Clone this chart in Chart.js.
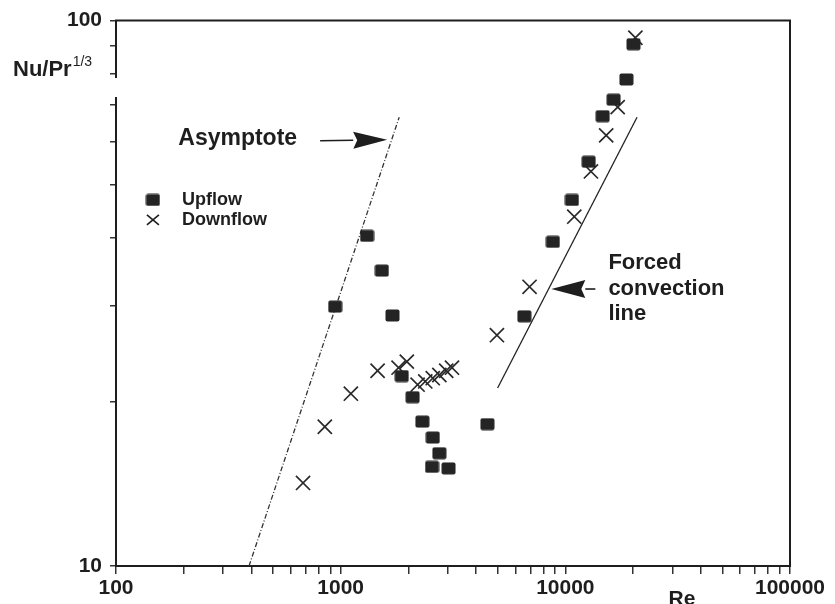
<!DOCTYPE html>
<html>
<head>
<meta charset="utf-8">
<script src="https://cdn.jsdelivr.net/npm/chart.js@4/dist/chart.umd.min.js"></script>
<style>
html,body{margin:0;padding:0;background:#fff;}
#wrap{width:835px;height:604px;position:relative;}
</style>
</head>
<body>
<div id="wrap"><canvas id="c" width="835" height="604"></canvas></div>
<script>
// ---- data ----
const upflowRe = [945, 1310, 1525, 1700, 1870, 2090, 2310, 2570, 2750, 2550, 3020, 4500, 6570, 8800, 10700, 12700, 14660, 16400, 18700, 20100];
const upflowNu = [29.9, 40.3, 34.8, 28.8, 22.3, 20.4, 18.4, 17.2, 16.1, 15.2, 15.1, 18.2, 28.7, 39.3, 46.9, 55.1, 66.8, 71.6, 78.0, 90.5];
const downflowRe = [680, 850, 1110, 1460, 1810, 1970, 2200, 2380, 2570, 2750, 2950, 3130, 4960, 6930, 10960, 13000, 15200, 17100, 20500];
const downflowNu = [14.2, 18.0, 20.7, 22.8, 23.1, 23.7, 21.5, 21.8, 22.1, 22.4, 22.8, 23.1, 26.5, 32.5, 43.7, 52.9, 61.6, 69.4, 93.0];
const asymptoteRe = [391, 1822];
const asymptoteNu = [10, 66.5];
const forcedRe = [4995, 20850];
const forcedNu = [21.2, 66.5];
const seriesLabels = ['Upflow', 'Downflow'];
const xTicks = [100,200,300,400,500,600,700,800,900,1000,2000,3000,4000,5000,6000,7000,8000,9000,10000,20000,30000,40000,50000,60000,70000,80000,90000,100000];
const xTickLabels = {100:'100', 1000:'1000', 10000:'10000', 100000:'100000'};
const yTicks = [10,20,30,40,50,60,70,80,90,100];
const yTickLabels = {10:'10', 100:'100'};
const xTitle = 'Re';
const yTitleMain = 'Nu/Pr';
const yTitleSup = '1/3';
const asymptoteText = 'Asymptote';
const forcedText = ['Forced', 'convection', 'line'];

// ---- helpers ----
const FONT = "'Liberation Sans', Arial, Helvetica, sans-serif";
const INK = '#1e1e1e';
const toPts = (xs, ys) => xs.map((v, i) => ({x: v, y: ys[i]}));

function makeSquare() {
  const c = document.createElement('canvas');
  c.width = 15; c.height = 13;
  const g = c.getContext('2d');
  g.fillStyle = '#242424';
  g.beginPath();
  if (g.roundRect) g.roundRect(0.5, 0.5, 14, 12, 2); else g.rect(0.5, 0.5, 14, 12);
  g.fill();
  return c;
}
const squareImg = makeSquare();

function arrow(ctx, x0, y0, x1, y1, headLen, headHalf) {
  const ang = Math.atan2(y1 - y0, x1 - x0);
  const bx = x1 - Math.cos(ang) * headLen, by = y1 - Math.sin(ang) * headLen;
  ctx.beginPath();
  ctx.moveTo(x0, y0); ctx.lineTo(bx, by);
  ctx.stroke();
  ctx.beginPath();
  ctx.moveTo(x1, y1);
  ctx.lineTo(bx - Math.sin(ang) * headHalf, by + Math.cos(ang) * headHalf);
  ctx.lineTo(bx + Math.cos(ang) * 4, by + Math.sin(ang) * 4);
  ctx.lineTo(bx + Math.sin(ang) * headHalf, by - Math.cos(ang) * headHalf);
  ctx.closePath();
  ctx.fill();
}

const decor = {
  id: 'decor',
  afterDraw(chart) {
    const {ctx, chartArea: a, scales: {x, y}} = chart;
    ctx.save();
    ctx.strokeStyle = INK; ctx.fillStyle = INK; ctx.lineWidth = 2;
    // frame top and right
    ctx.beginPath();
    ctx.moveTo(a.left - 1, a.top); ctx.lineTo(a.right, a.top); ctx.lineTo(a.right, a.bottom + 1);
    ctx.stroke();

    // break in the left axis beside the y title
    ctx.fillStyle = '#fff';
    ctx.fillRect(a.left - 8, 78, 10, 19);
    ctx.fillStyle = INK;

    // y title
    ctx.textBaseline = 'alphabetic'; ctx.textAlign = 'left';
    ctx.font = 'bold 22px ' + FONT;
    ctx.fillText(yTitleMain, 13, 76);
    const w = ctx.measureText(yTitleMain).width;
    ctx.font = '14px ' + FONT;
    ctx.fillText(yTitleSup, 13 + w + 1, 66);

    // x title
    ctx.font = 'bold 21px ' + FONT;
    ctx.textAlign = 'center';
    ctx.fillText(xTitle, 682, 605);

    // Asymptote annotation
    const ay = y.getPixelForValue(60.2);
    ctx.font = 'bold 23px ' + FONT;
    ctx.textAlign = 'right'; ctx.textBaseline = 'middle';
    ctx.fillText(asymptoteText, x.getPixelForValue(640), ay - 2);
    ctx.lineWidth = 1.6;
    arrow(ctx, x.getPixelForValue(810), ay, x.getPixelForValue(1611), ay - 1, 34, 8.5);

    // Forced convection annotation
    const fy = y.getPixelForValue(32.2);
    arrow(ctx, x.getPixelForValue(13603), fy, x.getPixelForValue(8661), fy, 34, 9);
    ctx.font = 'bold 22px ' + FONT;
    ctx.textAlign = 'left'; ctx.textBaseline = 'middle';
    const fx = x.getPixelForValue(15545);
    const fy0 = y.getPixelForValue(35.9);
    forcedText.forEach((t, i) => ctx.fillText(t, fx, fy0 + i * 25.5));

    // legend
    const lx = x.getPixelForValue(146);
    const ly = y.getPixelForValue(46.9);
    ctx.drawImage(squareImg, lx - 7.5, ly - 6.5);
    ctx.lineWidth = 1.6;
    ctx.beginPath();
    ctx.moveTo(lx - 6, ly + 20 - 5); ctx.lineTo(lx + 6, ly + 20 + 5);
    ctx.moveTo(lx - 6, ly + 20 + 5); ctx.lineTo(lx + 6, ly + 20 - 5);
    ctx.stroke();
    ctx.font = 'bold 18px ' + FONT;
    ctx.textAlign = 'left'; ctx.textBaseline = 'middle';
    ctx.fillText(seriesLabels[0], lx + 29, ly);
    ctx.fillText(seriesLabels[1], lx + 29, ly + 20);
    ctx.restore();
  }
};

new Chart(document.getElementById('c'), {
  type: 'scatter',
  data: {
    datasets: [
      {label: seriesLabels[0], data: toPts(upflowRe, upflowNu), pointStyle: squareImg, pointRadius: 7, showLine: false},
      {label: seriesLabels[1], data: toPts(downflowRe, downflowNu), pointStyle: 'crossRot', pointRadius: 10,
        borderColor: '#2a2a2a', pointBorderWidth: 1.7, backgroundColor: '#2a2a2a', showLine: false},
      {label: 'Asymptote', data: toPts(asymptoteRe, asymptoteNu), showLine: true, pointRadius: 0,
        borderColor: '#333', borderWidth: 1.3, borderDash: [5, 2, 1, 2], fill: false},
      {label: 'Forced convection line', data: toPts(forcedRe, forcedNu), showLine: true, pointRadius: 0,
        borderColor: '#222', borderWidth: 1.3, fill: false}
    ]
  },
  options: {
    responsive: false,
    animation: false,
    devicePixelRatio: 1,
    layout: {padding: {top: 18, right: 45, left: 0, bottom: 0}},
    plugins: {legend: {display: false}, tooltip: {enabled: false}},
    scales: {
      x: {
        type: 'logarithmic', min: 100, max: 100000, position: 'bottom',
        afterBuildTicks: s => { s.ticks = xTicks.map(v => ({value: v})); },
        afterFit: s => { s.height = 38; },
        ticks: {
          autoSkip: false, maxRotation: 0, padding: 2, color: INK,
          font: {family: FONT, size: 21, weight: 'bold'},
          callback: v => xTickLabels[v] || ''
        },
        grid: {drawOnChartArea: false, drawTicks: true, tickLength: 8, color: '#333', lineWidth: 1.5},
        border: {display: true, color: INK, width: 2}
      },
      y: {
        type: 'logarithmic', min: 10, max: 100,
        afterBuildTicks: s => { s.ticks = yTicks.map(v => ({value: v})); },
        afterFit: s => { s.width = 116; },
        ticks: {
          autoSkip: false, padding: 8, color: INK,
          font: {family: FONT, size: 21, weight: 'bold'},
          callback: v => yTickLabels[v] || ''
        },
        grid: {drawOnChartArea: false, drawTicks: true, tickLength: 6, color: '#333', lineWidth: 1.5},
        border: {display: true, color: INK, width: 2}
      }
    }
  },
  plugins: [decor]
});
</script>
</body>
</html>
